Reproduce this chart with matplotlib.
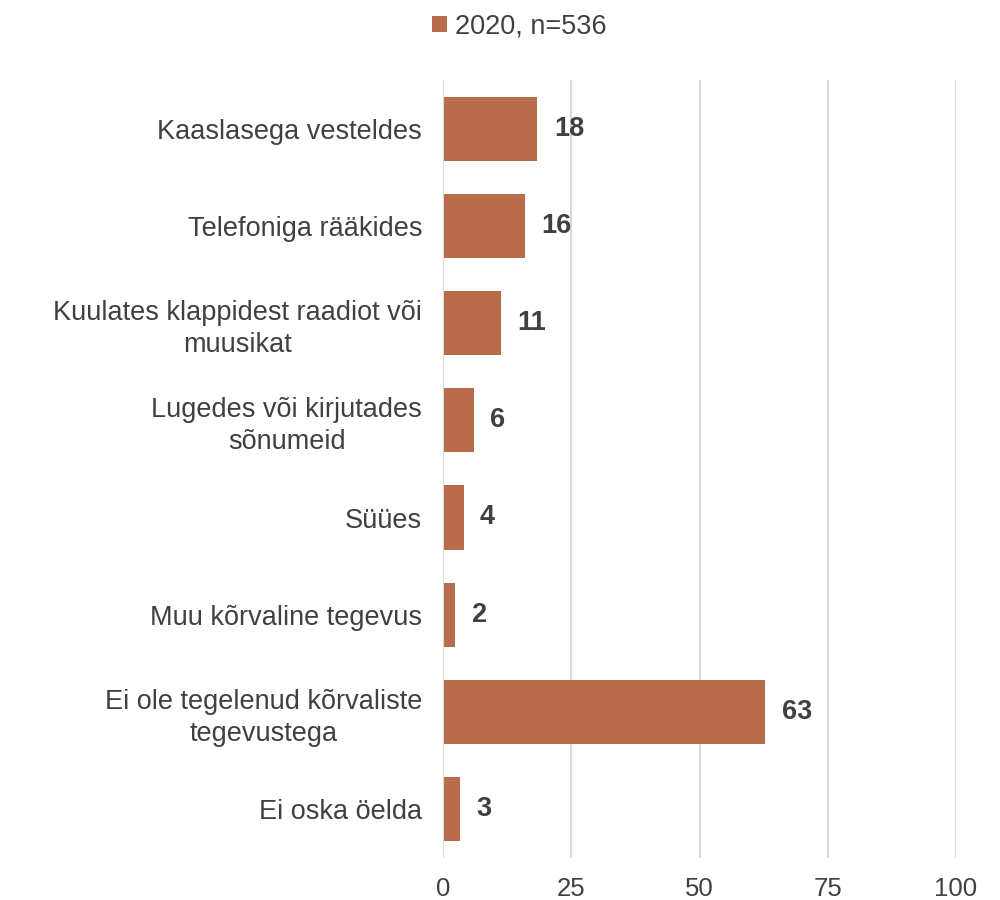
#!/usr/bin/env python3
"""Horizontal bar chart: side activities while driving, 2020."""

import matplotlib
matplotlib.use('Agg')
import matplotlib.pyplot as plt

categories = [
    'Kaaslasega vesteldes',
    'Telefoniga rääkides',
    'Kuulates klappidest raadiot või\nmuusikat',
    'Lugedes või kirjutades\nsõnumeid',
    'Süües',
    'Muu kõrvaline tegevus',
    'Ei ole tegelenud kõrvaliste\ntegevustega',
    'Ei oska öelda',
]
values = [18.4, 16.0, 11.3, 6.0, 4.0, 2.4, 62.8, 3.4]
series_name = '2020, n=536'
ticks = [0, 25, 50, 75, 100]

bar_color = '#BA6C4A'
text_color = '#404040'

plt.rcParams['font.family'] = ['Liberation Sans', 'DejaVu Sans']

fig = plt.figure(figsize=(10, 9), dpi=100)
ax = fig.add_axes([0.443, 0.047, 0.513, 0.864])

pos = list(range(len(categories)))
ax.barh(pos, values, height=0.66, color=bar_color, label=series_name, zorder=3)

for p, v in zip(pos, values):
    ax.text(v + 3.2, p, f'{v:.0f}', va='center', ha='left', fontsize=19.5,
            weight='bold', color=text_color)

ax.set_xlim(0, 100)
ax.set_ylim(len(categories) - 0.5, -0.5)
ax.set_xticks(ticks)
ax.set_xticklabels([str(t) for t in ticks])
ax.set_yticks(pos)
ax.set_yticklabels(categories, multialignment='center', linespacing=1.3)

ax.tick_params(axis='x', length=0, labelsize=18.5, labelcolor=text_color, pad=14)
ax.tick_params(axis='y', length=0, labelsize=19.5, labelcolor=text_color, pad=15)

ax.grid(axis='x', color='#D9D9D9', linewidth=1.5, zorder=0)
for s in ax.spines.values():
    s.set_visible(False)
ax.axvline(0, color='#D9D9D9', linewidth=1.5, zorder=4)

leg = fig.legend(loc='upper center', bbox_to_anchor=(0.519, 1.012), frameon=False,
                 fontsize=19.5, handlelength=0.55, handleheight=0.55, handletextpad=0.3)
for t in leg.get_texts():
    t.set_color(text_color)

plt.savefig('out.png', dpi=100)
plt.close()
print("Created out.png")
